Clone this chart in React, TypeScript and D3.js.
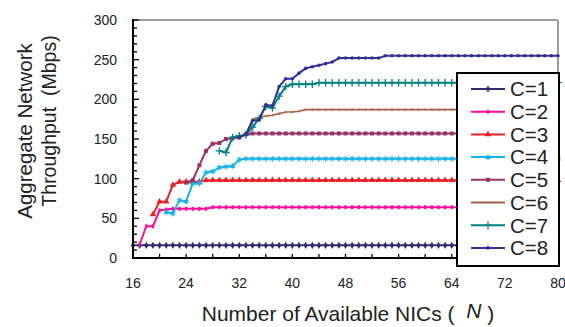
import React from "react";
import * as d3 from "d3";

const seriesNames = ["C=1", "C=2", "C=3", "C=4", "C=5", "C=6", "C=7", "C=8"];
const seriesStart = [16, 17, 19, 21, 24, 33, 29, 32];

const c1 = [
  16, 16, 16, 16, 16, 16, 16, 16, 16, 16, 16, 16, 16, 16, 16, 16,
  16, 16, 16, 16, 16, 16, 16, 16, 16, 16, 16, 16, 16, 16, 16, 16,
  16, 16, 16, 16, 16, 16, 16, 16, 16, 16, 16, 16, 16, 16, 16, 16,
  16, 16, 16, 16, 16, 16, 16, 16, 16, 16, 16, 16, 16, 16, 16, 16, 16,
];
const c2 = [
  17, 40, 40, 60, 61, 62, 62, 62, 62, 62, 62,
  64, 64, 64, 64, 64, 64, 64, 64, 64, 64, 64, 64, 64, 64, 64, 64, 64,
  64, 64, 64, 64, 64, 64, 64, 64, 64, 64, 64, 64, 64, 64, 64, 64, 64,
  64, 64, 64, 64, 64, 64, 64, 64, 64, 64, 64, 64, 64, 64, 64, 64, 64, 64, 64,
];
const c3 = [
  55, 71, 71, 92, 96, 96, 96, 96,
  98, 98, 98, 98, 98, 98, 98, 98, 98, 98, 98, 98, 98, 98, 98, 98, 98, 98,
  98, 98, 98, 98, 98, 98, 98, 98, 98, 98, 98, 98, 98, 98, 98, 98, 98, 98,
  98, 98, 98, 98, 98, 98, 98, 98, 98, 98, 98, 98, 98, 98, 98, 98, 98, 98,
];
const c4 = [
  58, 56, 73, 71, 94, 94, 108, 109, 114, 115, 116, 124,
  125, 125, 125, 125, 125, 125, 125, 125, 125, 125, 125, 125, 125, 125, 125, 125,
  125, 125, 125, 125, 125, 125, 125, 125, 125, 125, 125, 125, 125, 125, 125, 125,
  125, 125, 125, 125, 125, 125, 125, 125, 125, 125, 125, 125, 125, 125, 125, 125,
];
const c5 = [
  95, 98, 117, 135, 144, 145, 150, 151, 152, 156,
  157, 157, 157, 157, 157, 157, 157, 157, 157, 157, 157, 157, 157, 157, 157, 157,
  157, 157, 157, 157, 157, 157, 157, 157, 157, 157, 157, 157, 157, 157, 157, 157,
  157, 157, 157, 157, 157, 157, 157, 157, 157, 157, 157, 157, 157,
];
const c6 = [
  155, 175, 177, 179, 180, 182, 184, 184, 185,
  187, 187, 187, 187, 187, 187, 187, 187, 187, 187, 187, 187, 187, 187, 187, 187,
  187, 187, 187, 187, 187, 187, 187, 187, 187, 187, 187, 187, 187, 187, 187, 187,
  187, 187, 187, 187, 187, 187, 187,
];
const c7 = [
  135, 133, 152, 154, 155, 165, 176, 191, 189, 204, 216, 219, 219, 219, 219,
  221, 221, 221, 221, 221, 221, 221, 221, 221, 221, 221, 221, 221, 221, 221, 221,
  221, 221, 221, 221, 221, 221, 221, 221, 221, 221, 221, 221, 221, 221, 221, 221,
  221, 221, 221, 221, 221,
];
const c8 = [
  152, 156, 173, 174, 193, 192, 216, 226, 226, 233, 239, 241, 243, 245, 247,
  252, 252, 252, 252, 252, 252, 252,
  255, 255, 255, 255, 255, 255, 255, 255, 255, 255, 255, 255, 255, 255, 255, 255,
  255, 255, 255, 255, 255, 255, 255, 255, 255, 255, 255,
];
const seriesValues = [c1, c2, c3, c4, c5, c6, c7, c8];

const xTickLabels = [16, 24, 32, 40, 48, 56, 64, 72, 80];
const yTickLabels = [0, 50, 100, 150, 200, 250, 300];

const colors = ["#2C2E6C", "#FF0A9C", "#F01E24", "#19B2EC", "#993366", "#A5613F", "#00807E", "#2E3296"];

const FONT = "'Liberation Sans', Arial, Helvetica, sans-serif";

function Marker({ i, x, y }: { i: number; x: number; y: number }) {
  const c = colors[i];
  const t = `translate(${x},${y})`;
  switch (i) {
    case 0:
      return <path transform={t} d={d3.symbol(d3.symbolDiamond, 15)()!} fill={c} />;
    case 1:
      return <rect x={x - 1.1} y={y - 2} width={2.2} height={4} fill={c} />;
    case 2:
      return <path transform={t} d={d3.symbol(d3.symbolTriangle, 18)()!} fill={c} />;
    case 3:
      return <path transform={t} d={d3.symbol(d3.symbolAsterisk, 22)()!} fill="none" stroke={c} strokeWidth={1.2} />;
    case 4:
      return <path transform={t} d={d3.symbol(d3.symbolSquare, 16)()!} fill={c} />;
    case 5:
      return <line x1={x} x2={x} y1={y - 1.5} y2={y + 1.5} stroke={c} strokeWidth={0.8} />;
    case 6:
      return <path transform={t} d={d3.symbol(d3.symbolPlus, 20)()!} fill="none" stroke={c} strokeWidth={1.3} />;
    default:
      return <path transform={t} d={d3.symbol(d3.symbolCircle, 10)()!} fill={c} />;
  }
}

export default function App() {
  const W = 565, H = 327;
  const x = d3.scaleLinear().domain([16, 80]).range([133, 558]);
  const y = d3.scaleLinear().domain([0, 300]).range([258, 20]);

  const line = d3
    .line<[number, number]>()
    .x((d) => x(d[0]))
    .y((d) => y(d[1]));

  const series = seriesValues.map((vals, i) =>
    vals.map((v, k) => [seriesStart[i] + k, v] as [number, number])
  );

  const xMinor = d3.range(16, 81, 4);
  const yMinor = d3.range(0, 301, 10);

  const legX = 457, legY = 73, legW = 102, legH = 193;
  const legItemY = (i: number) => 89 + i * 22.7;

  return (
    <svg width={W} height={H} style={{ position: "absolute", left: 0, top: 0, background: "#fff" }} fontFamily={FONT}>
      <rect x={0} y={0} width={W} height={H} fill="#fff" />
      {/* frame top/right gray */}
      <line x1={x(16)} x2={x(80)} y1={y(300)} y2={y(300)} stroke="#9a9a9a" strokeWidth={2} />
      <line x1={x(80)} x2={x(80)} y1={y(300)} y2={y(0)} stroke="#9a9a9a" strokeWidth={2} />

      {/* series */}
      {series.map((pts, i) => (
        <g key={i}>
          <path d={line(pts)!} fill="none" stroke={colors[i]} strokeWidth={i === 5 ? 1.6 : 2} strokeLinejoin="round" />
          {pts.map((p, k) => (
            <Marker key={k} i={i} x={x(p[0])} y={y(p[1])} />
          ))}
        </g>
      ))}

      {/* axes */}
      <line x1={x(16)} x2={x(16)} y1={y(300) - 1} y2={y(0) + 1} stroke="#000" strokeWidth={2} />
      <line x1={x(16) - 1} x2={x(80)} y1={y(0)} y2={y(0)} stroke="#000" strokeWidth={2} />
      {yMinor.map((v) => (
        <line key={v} x1={x(16)} x2={x(16) + (v % 50 === 0 ? 6 : 4)} y1={y(v)} y2={y(v)} stroke="#000" strokeWidth={1.3} />
      ))}
      {xMinor.map((v) => (
        <line key={v} x1={x(v)} x2={x(v)} y1={y(0)} y2={y(0) - 4} stroke="#000" strokeWidth={1.3} />
      ))}
      {yTickLabels.map((v) => (
        <text key={v} x={117} y={y(v)} dy="0.35em" textAnchor="end" fontSize={14} fill="#222">
          {v}
        </text>
      ))}
      {xTickLabels.map((v) => (
        <text key={v} x={x(v)} y={288} textAnchor="middle" fontSize={14} fill="#222">
          {v}
        </text>
      ))}

      {/* axis titles */}
      <text x={348} y={321} textAnchor="middle" fontSize={21} fill="#222">
        {"Number of Available NICs (\u00A0\u00A0"}
        <tspan fontStyle="italic" dy={-3}>N</tspan>
        <tspan dy={3}>{"\u00A0)"}</tspan>
      </text>
      <g transform="translate(32,131) rotate(-90)">
        <text x={0} y={0} textAnchor="middle" fontSize={20.5} fill="#222">Aggregate Network</text>
      </g>
      <g transform="translate(56,121) rotate(-90)">
        <text x={0} y={0} textAnchor="middle" fontSize={19.5} fill="#222">{"Throughput\u00A0\u00A0(Mbps)"}</text>
      </g>

      {/* legend */}
      <rect x={legX} y={legY} width={legW} height={legH} fill="#fff" stroke="#000" strokeWidth={2} />
      {seriesNames.map((name, i) => {
        const ly = legItemY(i);
        return (
          <g key={name}>
            <line x1={471} x2={505} y1={ly} y2={ly} stroke={colors[i]} strokeWidth={2} />
            <Marker i={i} x={488} y={ly} />
            <text x={510} y={ly} dy="0.36em" fontSize={20.5} fill="#222">
              {name}
            </text>
          </g>
        );
      })}
    </svg>
  );
}
